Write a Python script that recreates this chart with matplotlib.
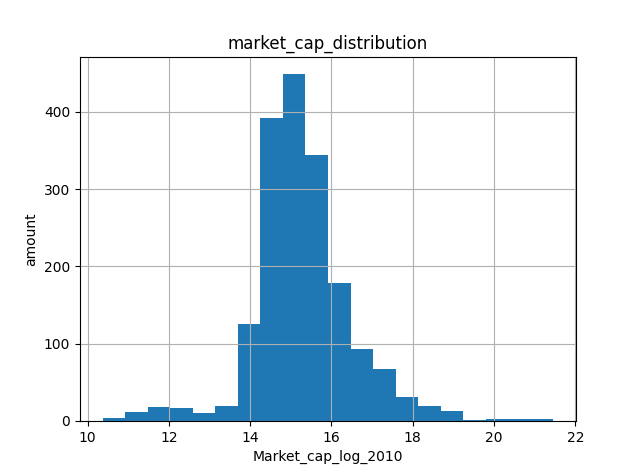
import matplotlib
matplotlib.use("Agg")
import matplotlib.pyplot as plt
import numpy as np

# Histogram of log market cap (2010)
bin_lo = 10.37
bin_hi = 21.46
n_bins = 20
counts = [4, 12, 18, 17, 10, 19, 125, 392, 449, 344,
          179, 93, 67, 31, 19, 13, 1, 2, 2, 2]

edges = np.linspace(bin_lo, bin_hi, n_bins + 1)
centers = (edges[:-1] + edges[1:]) / 2

fig, ax = plt.subplots(figsize=(6.4, 4.73), dpi=100)
ax.hist(centers, bins=edges, weights=counts, color="#1f77b4")
ax.grid(True)
ax.set_title("market_cap_distribution")
ax.set_xlabel("Market_cap_log_2010")
ax.set_ylabel("amount")
fig.savefig("out.png", dpi=100)
